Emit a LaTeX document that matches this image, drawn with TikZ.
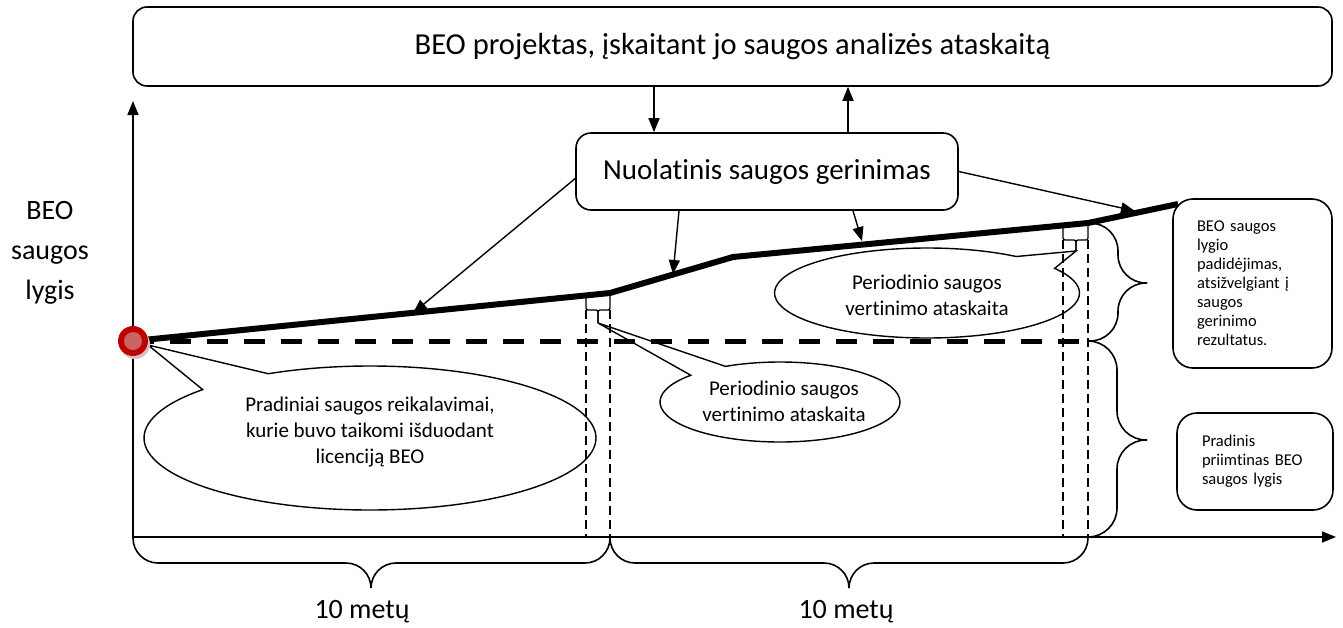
\documentclass[tikz,border=0pt]{standalone}
\usepackage{fontspec}
\setmainfont{Carlito}[Ligatures=NoCommon]
\usepackage{xcolor}
\usepackage{tikz}
\usetikzlibrary{arrows.meta,shapes,shapes.callouts}
\definecolor{beored}{RGB}{192,0,0}
\definecolor{beopink}{RGB}{200,100,100}
\definecolor{beoshadow}{RGB}{215,195,195}

\begin{document}
\begin{tikzpicture}[x=1pt, y=-1pt,
    box/.style={draw, line width=1.6pt, rounded corners=14pt, inner sep=0pt, font=\fontsize{29}{34}\selectfont},
    note/.style={draw, line width=1.6pt, rounded corners=20pt, inner ysep=0pt, align=left, font=\fontsize{16.5}{19}\selectfont},
    bubble/.style={ellipse callout, draw, line width=1.4pt, inner sep=0pt, callout pointer arc=21},
    bubtext/.style={align=center, font=\fontsize{21}{26}\selectfont},
    big/.style={align=center, font=\fontsize{28}{40}\selectfont},
    arrow/.style={-{Triangle[length=14pt,width=11pt]}, line width=1.4pt},
    axisline/.style={-{Triangle[length=14pt,width=11pt]}, line width=1.6pt},
    trend/.style={line width=6pt},
    floorline/.style={line width=5pt, dash pattern=on 21pt off 16pt},
    guide/.style={line width=1.4pt, dash pattern=on 9pt off 5pt},
    curly/.style={line width=1.6pt, rounded corners=#1},
    tiny/.style={line width=1.3pt, rounded corners=2pt}
]
\useasboundingbox (0,0) rectangle (1343,627);

\node[box, font=\fontsize{30.5}{35}\selectfont, minimum width=1199pt, minimum height=79pt] (proj) at (732.5,46.5) {BEO projektas, įskaitant jo saugos analizės ataskaitą};
\node[box, rounded corners=15pt, minimum width=382pt, minimum height=77pt] (imp) at (767,171.5) {Nuolatinis saugos gerinimas};

\node[note, text width=111pt, inner xsep=24pt, minimum height=169pt] (rise) at (1252.5,283.5) {BEO saugos\\lygio\\padidėjimas,\\atsižvelgiant į\\saugos\\gerinimo\\rezultatus.};
\node[note, text width=106pt, inner xsep=25pt, minimum height=97pt] (init) at (1255,461.5) {Pradinis\\priimtinas BEO\\saugos lygis};

\node[big] (ylab) at (50,253) {BEO\\saugos\\lygis};
\node[big] (per1) at (362,612) {10 metų};
\node[big] (per2) at (846,612) {10 metų};

\coordinate (O) at (133,537);
\coordinate (ytop) at (133,101);
\coordinate (xend) at (1336,537);
\coordinate (s0) at (133,341);
\coordinate (s1) at (610,293);
\coordinate (s2) at (733,257);
\coordinate (s3) at (1088,223);
\coordinate (s4) at (1178,204);
\coordinate (e1) at (413,313);
\coordinate (e2) at (673,274);
\coordinate (e3) at (862,241);
\coordinate (e4) at (1135,211);
\coordinate (dn) at (654,0);
\coordinate (up) at (848,0);
\coordinate (p1) at (148,345);
\coordinate (p2) at (598,323);
\coordinate (p3) at (1076,251);

\draw[axisline] (O) -- (ytop);
\draw[axisline] (O) -- (xend);

\draw[guide] (586,310) -- (586,537);
\draw[guide] (610,310) -- (610,537);
\draw[guide] (1063,240) -- (1063,537);
\draw[guide] (1088,240) -- (1088,537);

\draw[floorline] (s0) -- (1088,341);
\draw[trend] (s0) -- (s1) -- (s2) -- (s3) -- (s4);

\draw[tiny] (586,296) |- (598,310) -- (p2);
\draw[tiny] (s1) |- (598,310) -- (p2);
\draw[tiny] (1063,226) |- (1076,240) -- (p3);
\draw[tiny] (s3) |- (1076,240) -- (p3);

\draw[curly=28pt] (s3) -| (1118,283) -- (1147,283);
\draw[curly=28pt] (1088,341) -| (1118,283) -- (1147,283);
\draw[curly=29pt] (1088,341) -| (1117,440) -- (1147,440);
\draw[curly=29pt] (1088,537) -| (1117,440) -- (1147,440);
\draw[curly=25pt] (O) |- (371,563) -- (371,588);
\draw[curly=25pt] (610,537) |- (371,563) -- (371,588);
\draw[curly=25pt] (610,537) |- (849,563) -- (849,588);
\draw[curly=25pt] (1088,537) |- (849,563) -- (849,588);

\node[bubble, minimum width=452pt, minimum height=144pt, callout absolute pointer={(p1)}] (c1) at (370,438) {};
\node[bubtext] (c1t) at (370,432) {Pradiniai saugos reikalavimai,\\kurie buvo taikomi išduodant\\licenciją BEO};
\node[bubble, minimum width=240pt, minimum height=80pt, callout absolute pointer={(p2)}] (c2) at (780,402) {};
\node[bubtext] (c2t) at (784,401) {Periodinio saugos\\vertinimo ataskaita};
\node[bubble, minimum width=305pt, minimum height=90pt, callout absolute pointer={(p3)}] (c3) at (927,293) {};
\node[bubtext] (c3t) at (927,295) {Periodinio saugos\\vertinimo ataskaita};

\draw[arrow] (proj.south -| dn) -- (imp.north -| dn);
\draw[arrow] (imp.north -| up) -- (proj.south -| up);
\draw[arrow] ([yshift=-7pt]imp.west) -- (e1);
\draw[arrow] ([xshift=-88pt]imp.south) -- (e2);
\draw[arrow] ([xshift=86pt]imp.south) -- (e3);
\draw[arrow] (imp.east) -- (e4);

\fill[beoshadow] (135,344) circle[radius=15];
\fill[beored] (s0) circle[radius=15];
\fill[beopink] (s0) circle[radius=9];
\end{tikzpicture}
\end{document}
